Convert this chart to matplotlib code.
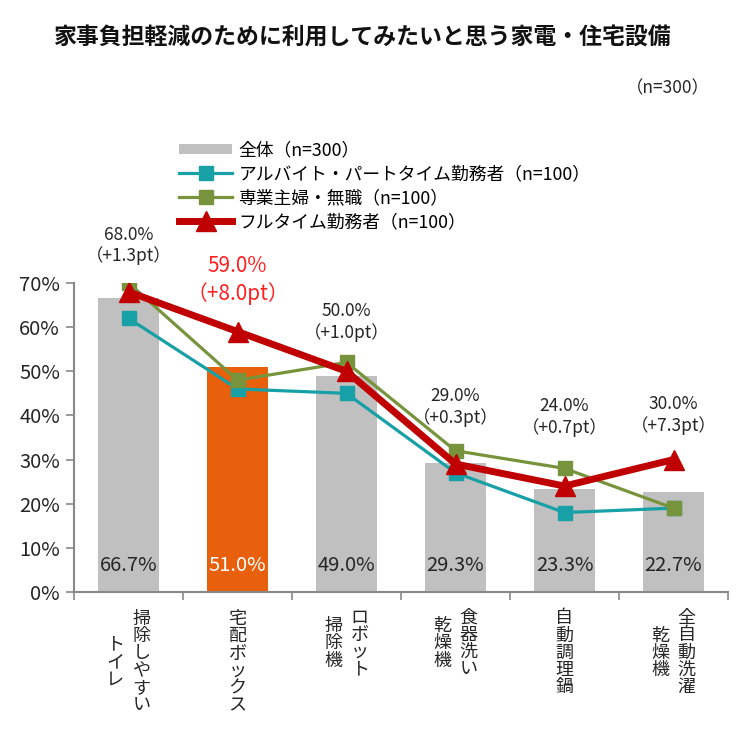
import matplotlib
matplotlib.use("Agg")
import matplotlib.pyplot as plt
from matplotlib.lines import Line2D
from matplotlib.patches import Patch

plt.rcParams['font.family'] = ['Noto Sans CJK JP', 'DejaVu Sans']

# ---- data ----
categories = [["掃除しやすい", "トイレ"], ["宅配ボックス"], ["ロボット", "掃除機"],
              ["食器洗い", "乾燥機"], ["自動調理鍋"], ["全自動洗濯", "乾燥機"]]
total = [66.7, 51.0, 49.0, 29.3, 23.3, 22.7]
part_time = [62, 46, 45, 27, 18, 19]
housewife = [70, 48, 52, 32, 28, 19]
full_time = [68, 59, 50, 29, 24, 30]
full_time_labels = ["68.0%", "59.0%", "50.0%", "29.0%", "24.0%", "30.0%"]
diff_labels = ["（+1.3pt）", "（+8.0pt）", "（+1.0pt）", "（+0.3pt）", "（+0.7pt）", "（+7.3pt）"]
bar_labels = ["66.7%", "51.0%", "49.0%", "29.3%", "23.3%", "22.7%"]
legend_labels = ["全体（n=300）", "アルバイト・パートタイム勤務者（n=100）",
                 "専業主婦・無職（n=100）", "フルタイム勤務者（n=100）"]
yticks = [0, 10, 20, 30, 40, 50, 60, 70]
highlight = 1

GRAY = "#C0C0C0"
ORANGE = "#E8600C"
TEAL = "#17A0A6"
GREEN = "#77933C"
RED = "#C00000"
TXT = "#262626"

fig = plt.figure(figsize=(7.4, 7.38), dpi=100)
ax = fig.add_axes([74/740, 1 - 592/738, (728-74)/740, (592-283)/738])

x = list(range(len(total)))
colors = [ORANGE if i == highlight else GRAY for i in x]
ax.bar(x, total, width=0.56, color=colors, zorder=1)

ax.plot(x, part_time, color=TEAL, lw=2.3, marker='s', ms=10, zorder=3)
ax.plot(x, housewife, color=GREEN, lw=2.3, marker='s', ms=10, zorder=4)
ax.plot(x, full_time, color=RED, lw=5, marker='^', ms=15, zorder=5)

ax.set_xlim(-0.5, len(total) - 0.5)
ax.set_ylim(0, 70)
ax.set_yticks(yticks)
ax.set_yticklabels([f"{v}%" for v in yticks], fontsize=14.5, color=TXT)
ax.set_xticks([])
ax.set_xticks([i - 0.5 for i in range(len(total) + 1)], minor=True)
ax.tick_params(axis='x', which='minor', length=6, color="#898989", width=1.2, direction='out')
ax.tick_params(axis='y', length=6, color="#898989", width=1.2, direction='out', pad=4)
for s in ['top', 'right']:
    ax.spines[s].set_visible(False)
for s in ['left', 'bottom']:
    ax.spines[s].set_color("#898989")
    ax.spines[s].set_linewidth(1.5)

# bar labels
for i, lab in enumerate(bar_labels):
    ax.text(i, 5.9, lab, ha='center', va='center', fontsize=14.5,
            color='white' if i == highlight else TXT, zorder=6)

# annotations for full-time
ann_y = [78.5, 70.7, 61.2, 42.0, 39.7, 40.1]
for i in x:
    if i == highlight:
        ax.text(i, ann_y[i], full_time_labels[i] + "\n" + diff_labels[i], ha='center', va='center',
                fontsize=15, color="#FF2020", linespacing=1.25, clip_on=False)
    else:
        ax.text(i, ann_y[i], full_time_labels[i] + "\n" + diff_labels[i], ha='center', va='center',
                fontsize=12.5, color=TXT, linespacing=1.2, clip_on=False)

# vertical category labels
char_pt = 13.5
fs = 13
for i, cols in enumerate(categories):
    L = max(len(c) for c in cols)
    yc = -(10 + L * char_pt / 2)
    n = len(cols)
    for j, col in enumerate(cols):
        if n == 1:
            dx = 0
        else:
            dx = 9.5 if j == 0 else -9.5
        ax.annotate("\n".join(col), xy=(i, 0), xycoords=('data', 'axes fraction'),
                    xytext=(dx, yc), textcoords='offset points',
                    ha='center', va='center', fontsize=fs, color=TXT,
                    linespacing=0.95, annotation_clip=False)

# title and n
fig.text(363/740, 1 - 38/738, "家事負担軽減のために利用してみたいと思う家電・住宅設備",
         ha='center', va='center', fontsize=16.5, fontweight='bold', color="#111111")
fig.text(710/740, 1 - 88/738, "（n=300）", ha='right', va='center', fontsize=12.5, color=TXT)

# legend
handles = [Patch(facecolor=GRAY, edgecolor='none'),
           Line2D([], [], color=TEAL, lw=2.3, marker='s', ms=10),
           Line2D([], [], color=GREEN, lw=2.3, marker='s', ms=10),
           Line2D([], [], color=RED, lw=5, marker='^', ms=15)]
fig.legend(handles, legend_labels, loc='upper left', bbox_to_anchor=(179/740, 1 - 141/738),
           frameon=False, fontsize=12.8, handlelength=3.0, handleheight=0.5,
           labelspacing=0.34, handletextpad=0.35, borderaxespad=0, borderpad=0)

fig.savefig("out.png", dpi=100)
